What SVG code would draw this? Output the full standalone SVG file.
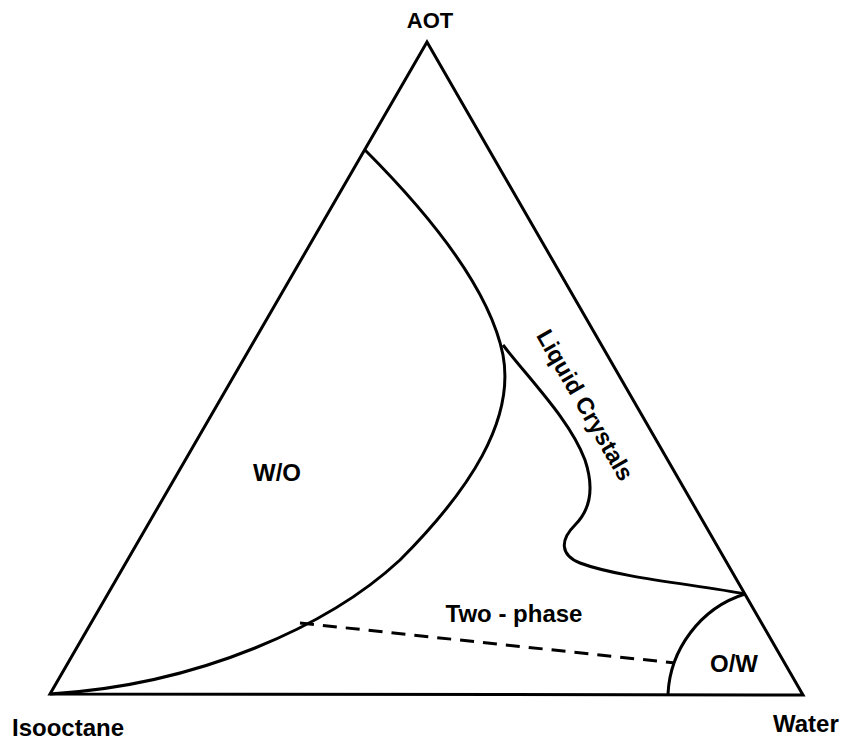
<svg xmlns="http://www.w3.org/2000/svg" width="847" height="740" viewBox="0 0 847 740">
<style>
.t{font-family:"Liberation Sans",Arial,sans-serif;font-weight:bold;font-size:24px;fill:#000}
.l{fill:none;stroke:#000;stroke-width:3;stroke-linejoin:miter}
.d{fill:none;stroke:#000;stroke-width:3;stroke-dasharray:14 9}
</style>
<rect width="847" height="740" fill="#fff"/>
<g id="triangle"><path class="l" d="M50,694 L427,42 L803,695 Z"/></g>
<g id="connectors">
<path id="wo-boundary" class="l" d="M365,150 C430,215 490,290 503,355 C515,420 470,490 400,560 C330,625 200,685 50,694"/>
<path id="lc-boundary" class="l" d="M503,345 C530,380 570,420 585,460 C595,490 590,510 575,525 C560,540 560,555 580,563 C620,578 700,585 745,594"/>
<path id="ow-boundary" class="l" d="M668,694 C670,650 700,608 745,594"/>
<path id="tie-line" class="d" d="M300,623 L675,663"/>
</g>
<g id="label-aot"><text class="t" x="430" y="28" text-anchor="middle" style="font-size:22px">AOT</text></g>
<g id="label-isooctane"><text class="t" x="12" y="736">Isooctane</text></g>
<g id="label-water"><text class="t" x="773" y="732">Water</text></g>
<g id="label-wo"><text class="t" x="277" y="481" text-anchor="middle">W/O</text></g>
<g id="label-ow"><text class="t" x="734" y="672" text-anchor="middle">O/W</text></g>
<g id="label-twophase"><text class="t" x="514" y="622" text-anchor="middle">Two - phase</text></g>
<g id="label-lc"><text class="t" x="0" y="8" text-anchor="middle" style="font-size:23.5px" transform="translate(585,405) rotate(60)">Liquid Crystals</text></g>
</svg>
